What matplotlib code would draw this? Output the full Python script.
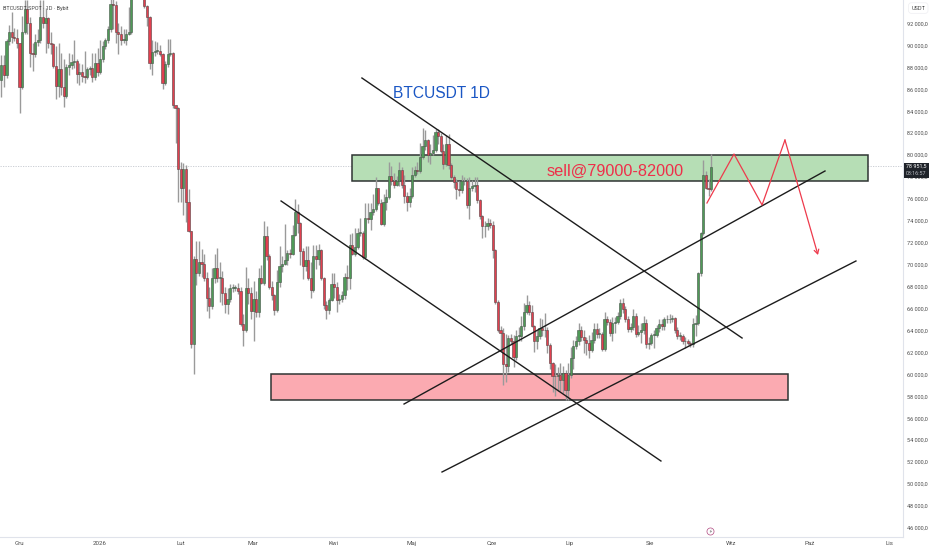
import numpy as np
import matplotlib
matplotlib.use("Agg")
import matplotlib.pyplot as plt
from matplotlib.patches import Rectangle

plt.rcParams['font.family'] = ['Roboto', 'DejaVu Sans']

closes = [
88.2,87.3,90.4,91.2,90.8,90.7,90.2,86.2,91.2,93.3,
92.0,89.3,89.2,90.3,90.5,92.6,92.0,92.5,90.2,90.1,
88.1,86.3,87.8,86.2,85.4,88.0,88.2,88.5,88.6,87.4,
87.6,87.2,87.1,87.8,87.9,87.1,88.4,87.6,88.8,89.9,
90.5,91.5,93.8,93.7,91.2,91.0,90.5,90.5,91.0,91.2,
94.5,96.5,97.2,96.0,94.4,93.6,92.6,88.4,89.4,89.5,
89.5,89.2,86.6,88.3,89.2,89.3,84.6,84.3,78.7,77.0,
78.7,75.7,73.1,62.8,70.5,69.2,70.2,70.1,68.8,67.0,
66.2,68.8,69.7,68.8,68.8,67.4,66.4,66.9,67.9,67.9,67.9,
67.6,64.6,64.0,67.9,67.4,65.8,66.9,65.7,68.8,68.3,
72.6,70.8,68.0,67.2,65.9,68.4,69.9,70.1,70.4,71.1,71.0,
72.7,74.8,73.8,71.2,69.9,70.4,68.8,67.7,70.8,70.5,
71.3,68.8,66.3,65.9,66.8,68.2,68.0,66.8,66.9,67.2,
68.9,68.8,71.8,71.0,71.6,72.9,72.9,70.7,74.3,74.2,
74.8,75.1,77.0,75.6,73.7,75.7,76.2,78.1,77.6,77.3,
77.6,78.6,77.3,76.3,75.7,76.3,78.2,78.6,78.5,79.8,
80.8,81.4,80.0,80.2,80.5,82.1,81.7,80.4,79.2,81.0,
79.1,78.0,77.5,76.9,76.8,77.6,77.6,75.4,77.0,77.2,
77.3,75.9,74.4,73.5,73.5,73.8,73.6,71.3,66.6,64.0,63.8,
60.9,60.8,63.3,63.0,61.6,63.5,63.5,64.4,65.7,66.3,
65.7,64.4,63.0,63.5,64.2,64.0,64.0,62.7,61.0,59.8,
59.8,59.9,59.5,60.1,58.6,59.9,61.5,62.6,63.0,64.0,
63.4,63.1,62.9,62.2,63.1,64.1,63.7,63.7,62.3,65.0,
64.8,63.8,64.7,64.8,65.3,66.5,66.0,65.0,64.1,64.3,
65.3,63.7,63.9,64.0,64.7,62.8,62.9,63.6,63.6,64.2,
64.6,64.4,65.0,65.0,65.0,65.1,64.0,63.5,63.5,63.0,
63.0,62.9,62.8,64.6,64.7,69.2,72.9,78.2,77.0,76.9,78.95]

highs = [
89.1,89.1,90.6,91.9,93.0,91.6,91.5,90.2,92.7,94.1,
94.1,92.6,90.2,91.0,91.5,94.1,94.1,93.4,92.6,91.2,
90.2,89.9,90.2,89.3,88.8,88.3,89.3,89.2,90.5,88.8,
88.4,88.3,89.5,88.0,88.1,89.3,89.3,89.8,90.5,90.4,
90.7,91.8,94.3,94.3,94.0,92.0,91.8,91.5,91.5,93.5,
95.2,97.0,98.0,97.5,96.2,94.5,93.7,92.7,90.5,90.4,
90.3,90.0,89.3,88.6,90.6,90.6,89.4,84.6,84.4,79.4,
79.3,79.1,76.9,73.1,70.8,72.2,72.2,71.4,71.0,69.3,
68.0,69.7,71.0,71.5,70.2,69.4,68.0,67.9,68.2,68.2,68.1,
68.3,68.0,65.5,69.8,68.8,68.0,68.5,67.6,69.7,70.0,
74.0,73.5,71.0,68.5,67.3,69.5,71.7,70.8,73.7,71.3,71.4,
73.6,76.0,75.5,73.9,71.5,71.7,71.7,70.2,71.8,71.8,
71.9,71.4,68.9,66.7,67.0,69.2,69.2,68.4,67.3,67.6,
69.2,70.0,72.8,72.9,73.3,73.3,74.3,73.1,75.6,75.6,
75.6,76.4,78.0,77.0,76.0,76.4,76.9,79.4,79.0,78.4,
78.1,79.4,78.9,78.2,76.6,77.0,78.9,79.0,79.4,81.1,
82.5,82.3,81.5,81.0,81.8,82.4,82.4,82.0,81.0,81.8,
81.9,79.3,78.2,77.8,77.6,78.2,78.0,77.9,78.0,77.7,
78.0,78.0,76.0,74.5,74.0,74.3,74.2,74.0,71.4,66.8,64.4,
64.2,63.7,63.6,63.7,63.6,64.0,64.3,65.3,66.5,67.2,
66.7,66.3,64.5,64.0,65.1,65.0,65.6,64.3,62.9,61.1,
60.9,60.7,61.0,60.8,60.4,61.0,62.5,63.1,63.5,64.7,
64.4,64.0,63.4,63.6,63.9,64.7,64.7,64.2,63.9,65.7,
65.3,65.0,65.2,65.2,65.7,66.9,67.0,66.2,65.3,64.7,
66.0,65.6,64.5,64.7,65.3,65.0,63.4,63.8,64.0,64.5,
65.0,65.0,65.2,65.4,65.5,65.4,65.2,64.3,63.9,63.7,
63.4,63.2,63.0,65.1,65.4,69.3,73.0,79.5,78.5,77.8,80.1]

lows = [
85.3,86.2,87.0,90.0,90.2,90.4,89.8,83.8,86.0,91.0,
91.0,88.0,87.7,88.9,89.9,90.2,91.6,89.3,89.8,89.2,
87.9,85.1,85.3,85.5,84.4,85.2,87.3,87.8,87.9,86.6,
86.4,86.7,86.6,86.9,87.3,86.7,86.8,87.2,87.4,88.5,
89.7,90.2,91.2,91.5,90.2,89.2,90.0,90.2,90.0,90.9,
91.0,94.2,96.0,95.5,94.2,93.4,91.8,87.8,87.3,89.0,
89.2,89.0,86.0,86.4,88.0,89.0,84.3,81.1,75.7,75.7,
74.5,73.9,73.0,62.4,60.0,68.1,69.0,68.9,68.5,65.8,
65.1,66.0,68.3,68.4,66.6,66.3,65.6,65.5,66.6,67.5,67.6,
67.3,64.4,62.6,63.9,66.4,65.0,63.0,65.2,65.2,68.2,
68.1,70.4,67.8,66.8,65.4,65.7,68.0,69.3,70.0,70.0,70.6,
70.9,72.6,72.9,70.0,68.7,69.4,68.6,67.0,67.5,69.6,
70.0,68.6,66.0,65.0,65.5,66.7,67.0,65.7,66.4,66.6,
66.9,67.7,67.8,70.9,70.8,71.4,72.6,70.5,70.5,73.8,
73.2,74.5,74.9,75.4,73.6,73.5,75.0,76.0,77.3,77.0,
77.2,77.2,77.0,75.6,74.9,75.3,76.1,78.0,78.3,78.4,
79.6,80.5,79.4,79.2,80.0,80.3,81.0,80.2,78.7,79.0,
78.7,77.8,77.0,76.0,76.3,76.5,77.3,75.2,74.2,76.7,
76.6,75.6,74.2,72.4,72.5,73.2,73.3,70.6,66.4,63.9,62.1,
59.0,59.3,60.2,62.8,60.7,61.3,63.0,63.0,64.0,65.5,
65.4,64.3,62.0,62.3,63.2,63.5,63.4,61.9,60.5,58.4,
58.0,58.5,58.5,58.3,57.7,57.7,59.7,60.5,62.3,62.7,
63.0,61.9,61.8,61.5,62.0,62.9,63.3,63.3,62.1,62.1,
64.5,63.5,63.0,63.8,64.6,65.0,65.6,64.8,63.9,63.9,
64.0,63.4,63.5,62.9,63.7,62.4,62.3,62.7,62.4,63.4,
63.9,64.0,64.0,64.7,64.7,64.8,63.8,63.2,63.1,62.8,
62.4,62.7,62.5,62.5,63.5,64.5,69.0,72.7,76.9,76.3,76.7]

first_open = 86.8
last_price = 78951.5

month_labels = ['Gru','2026','Lut','Mar','Kwi','Maj','Cze','Lip','Sie','Wrz','Paź','Lis']
month_pos = [6.8,38.0,69.1,96.8,127.8,157.6,188.7,218.7,249.5,280.7,310.7,341.4]
price_ticks = list(range(46000, 94000, 2000))

line_a_x, line_a_y = [138.7,284.9], [87022,63310]
line_b_x, line_b_y = [107.6,253.7], [75805,52093]
line_c_x, line_c_y = [154.9,316.8], [57291,78541]
line_d_x, line_d_y = [169.5,328.7], [51090,70333]
zig_x = [271.4,281.8,292.6,301.4,314.1]
zig_y = [75622,80091,75440,81368,70880]
sell_zone = (134.7,333.3,77647,80018)
buy_zone = (103.7,302.6,57701,60073)

closes = np.array(closes)*1000
highs = np.array(highs)*1000
lows = np.array(lows)*1000
opens = np.concatenate([[first_open*1000], closes[:-1]])
idx = np.arange(len(closes))
assert len(closes)==len(highs)==len(lows), (len(closes),len(highs),len(lows))

W,H = 932,550
fig = plt.figure(figsize=(W/100,H/100),dpi=100,facecolor='white')
ax = fig.add_axes([0,(H-537)/H,903/W,537/H])
ax.set_xlim(-0.5,346.8)
ax.set_ylim(45162,94136)

ax.hlines(last_price,-0.5,346.8,colors='#c4c7cf',lw=0.6,linestyles=(0,(1.5,1.5)),zorder=1)

up = closes>=opens
ax.vlines(idx,lows,highs,colors='#9a9a9a',lw=1.0,zorder=2)
ax.bar(idx[up],np.maximum(closes-opens,60)[up],bottom=opens[up],width=0.86,
       color='#4f9a57',edgecolor='#46564a',lw=0.4,zorder=3)
ax.bar(idx[~up],np.maximum(opens-closes,60)[~up],bottom=closes[~up],width=0.86,
       color='#e2404f',edgecolor='#5a4446',lw=0.4,zorder=3)

def zone(z,fc):
    ax.add_patch(Rectangle((z[0],z[2]),z[1]-z[0],z[3]-z[2],fc=fc,ec='#2f3433',lw=1.1,zorder=1.5))
zone(sell_zone,'#b6deb5')
zone(buy_zone,'#fbaab1')

for lx,ly in [(line_a_x,line_a_y),(line_b_x,line_b_y),(line_c_x,line_c_y),(line_d_x,line_d_y)]:
    ax.plot(lx,ly,color='#1c1c1c',lw=1.0,zorder=4)

ax.plot(zig_x[:-1],zig_y[:-1],color='#ee3a4c',lw=0.9,zorder=5)
ax.annotate('',xy=(zig_x[-1],zig_y[-1]),xytext=(zig_x[-2],zig_y[-2]),
            arrowprops=dict(arrowstyle='->,head_length=0.3,head_width=0.17',color='#ee3a4c',lw=0.9,
                            shrinkA=0,shrinkB=0),zorder=5)

ax.text(150.7,85654,'BTCUSDT 1D',color='#1a56c4',fontsize=11.2,va='center',ha='left',
        family=['Liberation Sans'],zorder=6)
ax.text(209.9,78541,'sell@79000-82000',color='#ee2f4a',fontsize=11.7,va='center',ha='left',
        family=['Liberation Sans'],zorder=6)
ax.text(0.6,93350,'BTCUSDT.SPOT · 1D · Bybit',color='#444444',fontsize=3.9,va='center',ha='left',zorder=7)

ax.scatter([272.6],[45709],s=26,facecolors='white',edgecolors='#b0477f',lw=0.5,zorder=6,clip_on=False)
ax.text(272.6,45709,'⚡',fontsize=3.6,ha='center',va='center',color='#555555',zorder=7,family=['DejaVu Sans'])

ax.set_xticks(month_pos)
ax.set_xticklabels(month_labels)
ax.yaxis.tick_right()
ax.set_yticks(price_ticks)
ax.set_yticklabels([f'{p//1000} {p%1000:03d},0' for p in price_ticks])
ax.tick_params(axis='x',length=0,pad=3.2,labelsize=4.4,labelcolor='#4a4a4a')
ax.tick_params(axis='y',length=0,pad=3,labelsize=4.0,labelcolor='#4a4a4a')
for s in ('top','left'):
    ax.spines[s].set_visible(False)
for s in ('right','bottom'):
    ax.spines[s].set_color('#e0e3eb')
    ax.spines[s].set_linewidth(0.8)

ax.annotate('USDT',xy=(1,1),xycoords='axes fraction',xytext=(11,-5.8),textcoords='offset points',
            fontsize=4.0,color='#444444',va='center',ha='center',annotation_clip=False,
            bbox=dict(boxstyle='round,pad=0.5',fc='white',ec='#eeeef2',lw=0.5))

fig.add_artist(Rectangle((904/W,(H-177.5)/H),25/W,15/H,transform=fig.transFigure,fc='#1f2329',ec='none',zorder=5))
fig.text(916.5/W,(H-166.3)/H,'78 951,5',fontsize=3.9,color='white',ha='center',va='center',zorder=6)
fig.text(916.5/W,(H-173.2)/H,'03:16:57',fontsize=3.9,color='#b9bcc2',ha='center',va='center',zorder=6)

fig.savefig('out.png',dpi=100,facecolor='white')
